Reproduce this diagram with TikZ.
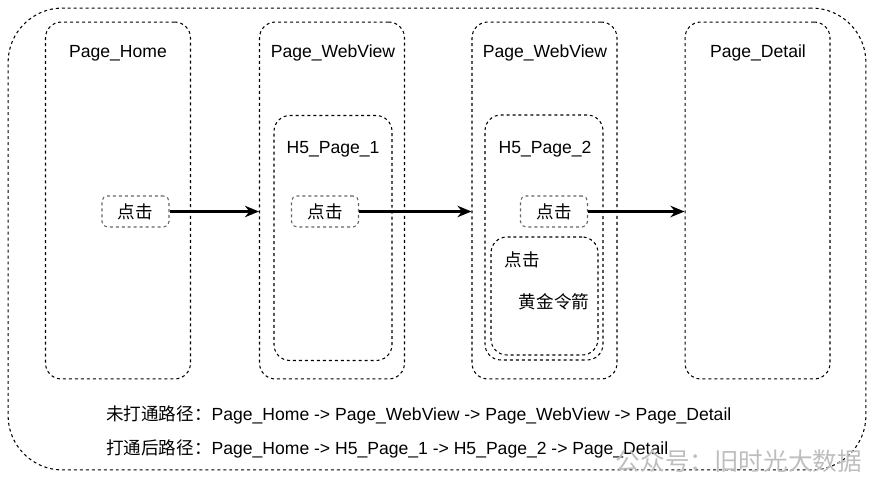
\documentclass[tikz,border=0pt]{standalone}
\usepackage{fontspec}
\setmainfont{Liberation Sans}
\newfontfamily\cjk{Noto Sans CJK SC}
\usetikzlibrary{positioning, arrows.meta}
\definecolor{clickgray}{RGB}{100,100,100}
\definecolor{markgray}{RGB}{190,190,190}

\tikzset{
  dashline/.style={draw=black, line width=0.6pt, dash pattern=on 1.7pt off 1.7pt},
  pagebox/.style={dashline, rounded corners=9pt, minimum width=2.9cm, minimum height=7.14cm},
  h5box/.style={dashline, rounded corners=9pt, minimum width=2.36cm, minimum height=4.9cm},
  clickbox/.style={dashline, draw=clickgray, rounded corners=3pt, minimum width=1.34cm, minimum height=0.62cm, font=\cjk},
  jump/.style={-{Stealth[length=8pt,width=6.5pt]}, line width=1.4pt}
}

\begin{document}
\begin{tikzpicture}[x=0.02cm, y=-0.02cm, font=\fontsize{10}{12}\selectfont]
    \useasboundingbox (0,0) rectangle (874,479);
    \node[dashline, rounded corners=31pt, minimum width=17.16cm, minimum height=9.24cm] (outer) at (437,239) {};

    % pages
    \node[pagebox] (home) at (118,200.5) {};
    \node[pagebox] (web1) at (332,200.5) {};
    \node[pagebox] (web2) at (544.5,200.5) {};
    \node[pagebox] (detail) at (757.5,200.5) {};
    \node (homelbl) at (118,53) {Page\_Home};
    \node (web1lbl) at (333,53) {Page\_WebView};
    \node (web2lbl) at (545,53) {Page\_WebView};
    \node (detaillbl) at (758,53) {Page\_Detail};

    % h5 pages inside the webviews
    \node[h5box] (h5one) at (333,238) {};
    \node[h5box] (h5two) at (544,237.5) {};
    \node (h5onelbl) at (333,149) {H5\_Page\_1};
    \node (h5twolbl) at (545,149) {H5\_Page\_2};
    \node[dashline, rounded corners=9pt, minimum width=2.14cm, minimum height=2.36cm] (arrowbox) at (544.5,296) {};
    \node[font=\cjk] (arrowclick) at (522,260) {点击};
    \node[font=\cjk] (arrowname) at (554,302) {黄金令箭};

    % clicks
    \node[clickbox] (click1) at (135.5,211.5) {点击};
    \node[clickbox] (click2) at (325,211.5) {点击};
    \node[clickbox] (click3) at (554,211.5) {点击};

    \draw[jump] (click1) -- (click1 -| web1.west);
    \draw[jump] (click2) -- (click2 -| web2.west);
    \draw[jump] (click3) -- (click3 -| detail.west);

    % paths
    \node[anchor=west] (pathold) at (100,415) {{\cjk 未打通路径：}Page\_Home -> Page\_WebView -> Page\_WebView -> Page\_Detail};
    \node[anchor=west] (pathnew) at (100,449) {{\cjk 打通后路径：}Page\_Home -> H5\_Page\_1 -> H5\_Page\_2 -> Page\_Detail};
    \node[anchor=east, text=markgray, font=\cjk\fontsize{14}{16}\selectfont] (mark) at (868,461) {公众号：旧时光大数据};
\end{tikzpicture}
\end{document}
